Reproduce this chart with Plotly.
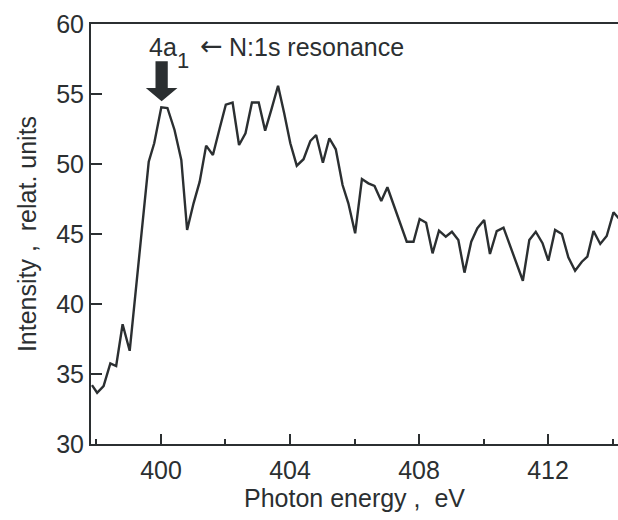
import plotly.graph_objects as go

# Photon energy (eV) and intensity (relat. units)
energy = [397.86, 398.02, 398.22, 398.43, 398.61, 398.81, 399.03, 399.62, 399.79,
          400.01, 400.20, 400.42, 400.63, 400.81, 401.01, 401.20, 401.40, 401.61,
          401.82, 402.01, 402.22, 402.42, 402.62, 402.82, 403.03, 403.23, 403.42,
          403.63, 403.82, 404.01, 404.21, 404.42, 404.63, 404.81, 405.02, 405.22,
          405.42, 405.63, 405.81, 406.02, 406.23, 406.43, 406.62, 406.83, 407.02,
          407.62, 407.83, 408.02, 408.22, 408.42, 408.62, 408.83, 409.02, 409.22,
          409.41, 409.62, 409.81, 410.02, 410.20, 410.41, 410.62, 411.22, 411.42,
          411.62, 411.83, 412.01, 412.22, 412.43, 412.63, 412.84, 413.05, 413.22,
          413.41, 413.62, 413.82, 414.03, 414.19]
intensity = [34.21, 33.66, 34.14, 35.76, 35.57, 38.55, 36.66, 50.16, 51.48,
             54.05, 54.00, 52.43, 50.29, 45.29, 47.19, 48.74, 51.31, 50.64,
             52.55, 54.24, 54.39, 51.36, 52.19, 54.39, 54.39, 52.38, 53.86,
             55.59, 53.62, 51.48, 49.88, 50.34, 51.64, 52.07, 50.09, 51.84,
             51.05, 48.50, 47.19, 45.05, 48.93, 48.62, 48.43, 47.36, 48.34,
             44.45, 44.45, 46.07, 45.81, 43.62, 45.24, 44.81, 45.16, 44.57,
             42.24, 44.45, 45.41, 46.00, 43.57, 45.21, 45.45, 41.66, 44.57,
             45.16, 44.34, 43.09, 45.29, 45.00, 43.34, 42.38, 43.02, 43.38,
             45.21, 44.29, 44.86, 46.55, 46.12]

x_ticks = [400, 404, 408, 412]
y_ticks = [30, 35, 40, 45, 50, 55, 60]

ink = "#2b2f31"
font = "Liberation Sans, Arial, sans-serif"

fig = go.Figure()
fig.add_trace(go.Scatter(x=energy, y=intensity, mode="lines",
                         line=dict(color=ink, width=2.4), showlegend=False,
                         hoverinfo="skip"))

# big downward arrow marking the 4a1 resonance peak
ax = 400.02
path = (f"M {ax-0.19},57.34 L {ax+0.19},57.34 L {ax+0.19},55.43 "
        f"L {ax+0.49},55.43 L {ax},54.48 L {ax-0.49},55.43 "
        f"L {ax-0.19},55.43 Z")
fig.add_shape(type="path", path=path, xref="x", yref="y",
              fillcolor=ink, line=dict(width=0))

fig.add_annotation(x=399.58, y=58.36, xref="x", yref="y", text="4a",
                   showarrow=False, xanchor="left", yanchor="middle",
                   font=dict(family=font, size=25, color=ink))
fig.add_annotation(x=400.69, y=57.36, xref="x", yref="y", text="1",
                   showarrow=False, xanchor="center", yanchor="middle",
                   font=dict(family=font, size=22, color=ink))
fig.add_annotation(x=401.58, y=58.43, xref="x", yref="y", text="\u2190",
                   showarrow=False, xanchor="center", yanchor="middle",
                   font=dict(family="DejaVu Sans", size=27, color=ink))
fig.add_annotation(x=402.05, y=58.36, xref="x", yref="y",
                   text="N:1s resonance",
                   showarrow=False, xanchor="left", yanchor="middle",
                   font=dict(family=font, size=25, color=ink))

fig.update_layout(
    width=618, height=520,
    margin=dict(l=91, r=0, t=24, b=76),
    paper_bgcolor="white", plot_bgcolor="white",
    font=dict(family=font, size=25, color=ink),
    xaxis=dict(range=[397.83, 414.17], tickvals=x_ticks,
               ticks="inside", ticklen=10, tickwidth=1.8, tickcolor=ink,
               minor=dict(dtick=2, tick0=398, ticks="inside", ticklen=5,
                          tickwidth=1.5, tickcolor=ink),
               showline=True, linecolor=ink, linewidth=2, mirror=True,
               showgrid=False, zeroline=False,
               tickfont=dict(size=25), ticklabelstandoff=3,
               title=dict(text="Photon energy ,  eV", standoff=2,
                          font=dict(size=25))),
    yaxis=dict(range=[30, 60], tickvals=y_ticks,
               ticks="inside", ticklen=11, tickwidth=1.8, tickcolor=ink,
               showline=True, linecolor=ink, linewidth=2,
               showgrid=False, zeroline=False,
               tickfont=dict(size=25),
               title=dict(text="Intensity ,  relat. units", standoff=12,
                          font=dict(size=25))),
)

fig.write_html("out.html")
